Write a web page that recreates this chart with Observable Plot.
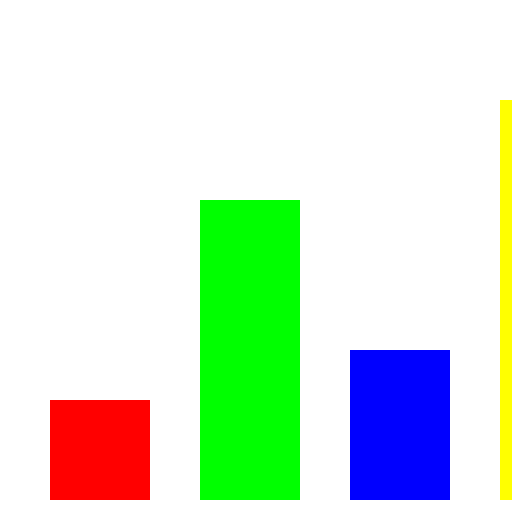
<!DOCTYPE html>
<html>
<head>
<meta charset="utf-8">
<script src="https://cdn.jsdelivr.net/npm/d3@7"></script>
<script src="https://cdn.jsdelivr.net/npm/@observablehq/plot@0.6"></script>
<style>
  html, body { margin: 0; padding: 0; background: white; overflow: hidden; }
  #chart svg { display: block; overflow: hidden; }
</style>
</head>
<body>
<div id="chart"></div>
<script>
const categories = ["A", "B", "C", "D"];
const values = [100, 300, 150, 400];
const colors = ["#ff0000", "#00ff00", "#0000ff", "#ffff00"];

const data = categories.map((c, i) => ({category: c, value: values[i], color: colors[i]}));

const chart = Plot.plot({
  width: 512,
  height: 512,
  marginTop: 0,
  marginRight: 0,
  marginBottom: 12,
  marginLeft: 0,
  style: {overflow: "hidden", background: "white"},
  x: {domain: categories, range: [0, 650], paddingInner: 1/3, paddingOuter: 1/3, axis: null},
  y: {domain: [0, 500], range: [500, 0], axis: null},
  marks: [
    Plot.barY(data, {x: "category", y: "value", fill: "color"})
  ]
});
document.getElementById("chart").appendChild(chart);
</script>
</body>
</html>
